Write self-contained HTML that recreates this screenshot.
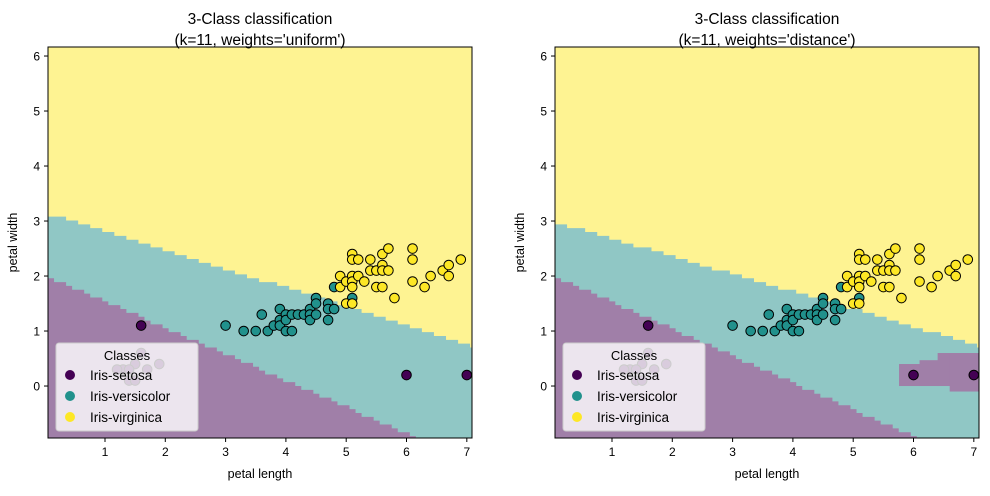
<!DOCTYPE html>
<html><head><meta charset="utf-8"><style>
html,body{margin:0;padding:0;background:#fff;}
svg text{font-family:"Liberation Sans","DejaVu Sans",sans-serif;fill:#000;}
</style></head><body>
<svg id="fig" width="990" height="491" xmlns="http://www.w3.org/2000/svg"></svg>
<script>
const xTicks=[1,2,3,4,5,6,7];
const yTicks=[0,1,2,3,4,5,6];
const setosaX=[1.6,6.0,7.0,1.6,1.5,1.9,1.3,1.4,1.7,1.4,1.5,1.2];
const setosaY=[1.1,0.2,0.2,0.6,0.4,0.4,0.3,0.3,0.3,0.1,0.1,0.3];
const versiX=[3.0,3.3,3.5,3.6,3.7,3.8,3.9,3.9,3.9,4.0,4.0,4.0,4.1,4.1,4.2,4.3,4.4,4.4,4.4,4.5,4.5,4.5,4.7,4.7,4.7,4.8,4.8,5.1];
const versiY=[1.1,1.0,1.0,1.3,1.0,1.1,1.4,1.2,1.1,1.3,1.2,1.0,1.3,1.0,1.3,1.3,1.4,1.3,1.2,1.6,1.5,1.3,1.5,1.4,1.2,1.4,1.8,1.6];
const virgX=[4.9,4.9,5.0,5.0,5.1,5.1,5.1,5.1,5.1,5.1,5.2,5.2,5.3,5.4,5.4,5.5,5.5,5.6,5.6,5.6,5.6,5.7,5.7,5.8,6.1,6.1,6.1,6.3,6.4,6.6,6.7,6.7,6.9];
const virgY=[1.8,2.0,1.9,1.5,2.4,2.3,2.0,1.9,1.8,1.5,2.3,2.0,1.9,2.3,2.1,2.1,1.8,2.4,2.2,2.1,1.8,2.5,2.1,1.6,2.5,2.3,1.9,1.8,2.0,2.1,2.2,2.0,2.3];
// boundary lines: y = a + b*x
const leftBoundA=[2.02,3.15], leftBoundB=[-0.48,-0.34];
const rightBoundA=[2.02,3.0], rightBoundB=[-0.49,-0.32];
// setosa island (distance weights): x ranges with y bottom/top
const islandX0=[5.76,6.1,6.4,6.6], islandX1=[6.1,6.4,6.6,7.2];
const islandY0=[0.0,0.0,0.0,-0.1], islandY1=[0.4,0.47,0.6,0.6];
const titles=["3-Class classification\n(k=11, weights='uniform')","3-Class classification\n(k=11, weights='distance')"];
const classNames=["Iris-setosa","Iris-versicolor","Iris-virginica"];

const NS="http://www.w3.org/2000/svg";
const svg=document.getElementById('fig');
function el(t,a,p){const e=document.createElementNS(NS,t);for(const k in a)e.setAttribute(k,a[k]);(p||svg).appendChild(e);return e;}
const XMIN=0.055,XMAX=7.086,YMIN=-0.945,YMAX=6.164;
const regCol=["#a07fa8","#90c7c5","#fef392"];
const ptCol=["#440154","#21918c","#fde725"];

function drawPanel(ox,bA,bB,withIsland,title,pi){
  const L=ox,T=47,W=424,H=391;
  const sx=v=>L+(v-XMIN)/(XMAX-XMIN)*W;
  const sy=v=>T+(YMAX-v)/(YMAX-YMIN)*H;
  const g=el('g',{});
  
  
  const cp=el('clipPath',{id:'cp'+pi},g);el('rect',{x:L,y:T,width:W,height:H},cp);
  const rg=el('g',{'clip-path':'url(#cp'+pi+')'},g);
  
  
  el('rect',{x:L,y:T,width:W,height:H,fill:regCol[2]},rg);
  const h=0.1,q=0.07;
  [1,0].forEach(k=>{
    let d=`M${sx(XMIN)},${sy(YMIN-1)}`;
    for(let x=XMIN;x<XMAX+h;x+=h){
      const xc=x+h/2;
      const b=Math.round((bA[k]+bB[k]*xc)/q)*q;
      d+=` L${sx(x)},${sy(b)} L${sx(x+h)},${sy(b)}`;
    }
    d+=` L${sx(XMAX+0.3)},${sy(YMIN-1)} Z`;
    const p=el('path',{d:d,fill:regCol[k]},rg);
    
    
  });
  if(withIsland){
    islandX0.forEach((x0,i)=>{
      const r=el('rect',{x:sx(x0),y:sy(islandY1[i]),width:sx(islandX1[i])-sx(x0)+0.5,height:sy(islandY0[i])-sy(islandY1[i]),fill:regCol[0]},rg);
      
      
    });
  }
  const sets=[[setosaX,setosaY],[versiX,versiY],[virgX,virgY]];
  sets.forEach((s,ci)=>{s[0].forEach((xv,i)=>{
    const c=el('circle',{cx:sx(xv),cy:sy(s[1][i]),r:4.8,fill:ptCol[ci],stroke:'#000','stroke-width':1},g);
    
    
  });});
  el('rect',{x:L,y:T,width:W,height:H,fill:'none',stroke:'#000','stroke-width':1},g);
  xTicks.forEach(t=>{const x=sx(t);el('line',{x1:x,x2:x,y1:T+H,y2:T+H+4,stroke:'#000'},g);
    const tx=el('text',{x:x,y:T+H+18,'font-size':12,'text-anchor':'middle'},g);tx.textContent=t;
    });
  yTicks.forEach(t=>{const y=sy(t);el('line',{x1:L-4,x2:L,y1:y,y2:y,stroke:'#000'},g);
    const tx=el('text',{x:L-8,y:y+4.5,'font-size':12,'text-anchor':'end'},g);tx.textContent=t;
    });
  const xl=el('text',{x:L+W/2,y:478,'font-size':12.5,'text-anchor':'middle'},g);xl.textContent='petal length';
  
  const yl=el('text',{x:0,y:0,'font-size':12.5,'text-anchor':'middle',transform:`translate(${L-31},${T+H/2}) rotate(-90)`},g);yl.textContent='petal width';
  
  title.split('\n').forEach((ln,i)=>{const t=el('text',{x:L+W/2,y:24+i*21,'font-size':15.5,'text-anchor':'middle'},g);t.textContent=ln;
    });
  const lg=el('g',{},g);
  
  
  el('rect',{x:L+8,y:343,width:142,height:88,rx:3,fill:'#fff','fill-opacity':0.8,stroke:'#ccc'},lg);
  const lt=el('text',{x:L+79,y:360,'font-size':13,'text-anchor':'middle'},lg);lt.textContent='Classes';
  classNames.forEach((n,i)=>{
    const e=el('g',{},lg);
    
    
    el('circle',{cx:L+22,cy:375+i*21,r:5,fill:ptCol[i]},e);
    const t=el('text',{x:L+42,y:380+i*21,'font-size':13.5},e);t.textContent=n;
  });
}
drawPanel(48,leftBoundA,leftBoundB,false,titles[0],0);
drawPanel(555,rightBoundA,rightBoundB,true,titles[1],1);
</script>
</body></html>
